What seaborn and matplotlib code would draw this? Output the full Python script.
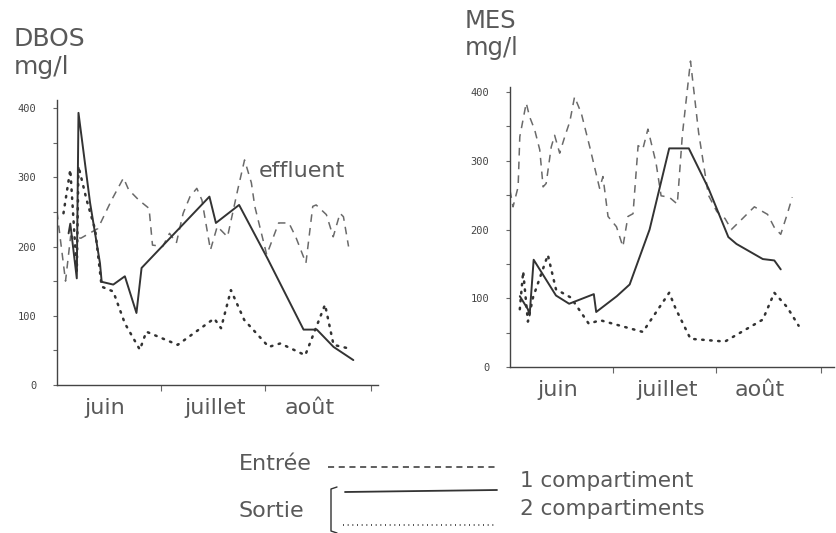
import matplotlib
matplotlib.use("Agg")
import matplotlib.pyplot as plt
from matplotlib.lines import Line2D
import seaborn as sns
import pandas as pd

# ---------------- data (x = days from 1 June) ----------------
months = ["juin", "juillet", "août"]
month_mid = [14, 46.5, 74]
month_edges = [30.5, 61, 92]

# DBOS
dbos_in_day = [0, 2.5, 4, 7, 12, 16, 19.5, 21, 24, 27, 28, 31, 33, 35, 37, 39, 41, 42.5,
               45, 47, 50, 53, 55, 57, 58, 61.5, 65, 68, 70, 73, 75, 76, 79, 81, 83, 84, 85.5]
dbos_in_val = [250, 150, 215, 212, 226, 267, 299, 282, 267, 255, 202, 200, 219, 205, 248, 272, 284, 267,
               195, 229, 214, 282, 325, 292, 258, 188, 234, 234, 214, 176, 258, 260, 246, 214, 248, 243, 200]
dbos_c1_day = [3.4, 3.9, 5.8, 6.3, 9.7, 12.6, 13.1, 16.5, 19.9, 23.3, 24.8, 44.7, 46.6, 53.4,
               61.7, 72.3, 76.2, 81.1, 86.9]
dbos_c1_val = [219, 233, 154, 393, 263, 176, 149, 145, 157, 104, 169, 272, 234, 260,
               183, 80, 80, 55, 36]
dbos_c2_day = [1.9, 3.9, 5.8, 6.3, 8.7, 11.2, 13.1, 16.5, 19.9, 24.3, 26.2, 35.4, 46.1, 48.1,
               51, 54.9, 62.1, 65.5, 72.8, 78.6, 81.1, 85.4]
dbos_c2_val = [248, 311, 164, 316, 267, 224, 142, 135, 89, 51, 77, 58, 96, 82,
               137, 94, 55, 60, 43, 116, 58, 53]

# MES
mes_in_day = [0, 0.9, 2.4, 2.9, 4.8, 5.8, 7.3, 8.8, 9.8, 10.7, 12.2, 13.2, 14.7, 16.2, 17.7, 19.1,
              21.1, 23.6, 26.5, 27.5, 29, 31.5, 33.4, 34.9, 36.4, 37.9, 39.3, 40.8, 43.2, 44.7,
              47.1, 49.5, 51, 53.4, 55.8, 58.7, 61.2, 63.6, 65.5, 68.4, 72.3, 76.2, 78.2, 80.1,
              82, 83.5]
mes_in_val = [257, 233, 262, 335, 384, 364, 345, 316, 262, 267, 320, 337, 311, 335, 357, 393,
              369, 320, 260, 277, 219, 204, 175, 219, 223, 322, 317, 346, 297, 249,
              247, 237, 338, 445, 341, 250, 226, 216, 200, 214, 233, 222, 203, 193,
              222, 247]
mes_c1_day = [2.9, 5.3, 5.8, 7.0, 13.6, 17.5, 24.8, 25.5, 31.6, 35.4, 41.3, 47.1, 52.9, 58.7,
              64.6, 67.0, 74.8, 78.2, 80.1]
mes_c1_val = [103, 84, 75, 156, 104, 92, 106, 80, 103, 120, 200, 318, 318, 260,
              189, 179, 157, 155, 142]
mes_c2_day = [2.9, 3.9, 5.3, 6.8, 11.2, 13.6, 18.0, 23.3, 26.7, 39.3, 47.1, 49.0, 53.4,
              63.6, 74.8, 78.2, 82.0, 85.4]
mes_c2_val = [84, 139, 66, 101, 163, 113, 101, 63, 68, 51, 108, 85, 41,
              37, 69, 108, 87, 60]

yticks = [0, 100, 200, 300, 400]

# ---------------- style ----------------
sns.set_theme(style="white")
plt.rcParams["font.family"] = ["DejaVu Sans"]
TXT = "#595959"
LINE = "#333333"
DASH = "#6a6a6a"

fig = plt.figure(figsize=(8.37, 5.33), dpi=100)
W, H = 837, 533


def axes_px(x0, x1, y_bottom, y_top):
    return fig.add_axes([x0 / W, 1 - y_bottom / H, (x1 - x0) / W, (y_bottom - y_top) / H])


def draw_panel(ax, xmax, ymax, spine_top, series):
    for day, val, kind in series:
        df = pd.DataFrame({"jour": day, "val": val})
        if kind == "in":
            sns.lineplot(data=df, x="jour", y="val", ax=ax, sort=False, estimator=None,
                         color=DASH, lw=1.1, dashes=False, linestyle=(0, (5, 4)))
        elif kind == "c1":
            sns.lineplot(data=df, x="jour", y="val", ax=ax, sort=False, estimator=None,
                         color=LINE, lw=1.4)
        else:
            sns.lineplot(data=df, x="jour", y="val", ax=ax, sort=False, estimator=None,
                         color=LINE, lw=1.8, linestyle=(0, (0.6, 2.6)),
                         dash_capstyle="round")
    ax.set_xlim(0, xmax)
    ax.set_ylim(0, ymax)
    ax.set_xlabel("")
    ax.set_ylabel("")
    for s in ["top", "right"]:
        ax.spines[s].set_visible(False)
    for s in ["left", "bottom"]:
        ax.spines[s].set_color("#444444")
        ax.spines[s].set_linewidth(1.0)
    ax.spines["left"].set_bounds(0, spine_top)
    ax.set_yticks(yticks)
    ax.set_yticklabels([str(v) for v in yticks], fontsize=7.5, color="#444444",
                       family="DejaVu Sans Mono")
    ax.set_yticks([50, 150, 250, 350], minor=True)
    ax.tick_params(axis="y", which="both", direction="out", length=3, width=0.8,
                   color="#666666", left=True, pad=12)
    ax.set_xticks(month_edges)
    ax.set_xticklabels([])
    ax.set_xticks(month_mid, minor=True)
    ax.set_xticklabels(months, minor=True, fontsize=16, color=TXT)
    ax.tick_params(axis="x", which="major", direction="out", length=4, width=0.8,
                   color="#666666", bottom=True)
    ax.tick_params(axis="x", which="minor", length=0, pad=9, bottom=True)
    ax.grid(False)
    ax.set_facecolor("none")


# left panel: DBOS
axL = axes_px(57, 57 + 94 * 3.41, 385, 385 - 412 * 0.6925)
draw_panel(axL, 94, 412, 412,
           [(dbos_in_day, dbos_in_val, "in"),
            (dbos_c1_day, dbos_c1_val, "c1"),
            (dbos_c2_day, dbos_c2_val, "c2")])
axL.text(0.63, 0.73, "effluent", transform=axL.transAxes, fontsize=16, color=TXT)

# right panel: MES
axR = axes_px(510, 510 + 96 * 3.38, 367, 367 - 458 * 0.6875)
draw_panel(axR, 96, 458, 408,
           [(mes_in_day, mes_in_val, "in"),
            (mes_c1_day, mes_c1_val, "c1"),
            (mes_c2_day, mes_c2_val, "c2")])

# titles
fig.text(14 / W, 1 - 46 / H, "DBOS", fontsize=18, color=TXT, va="baseline")
fig.text(14 / W, 1 - 74 / H, "mg/l", fontsize=18, color=TXT, va="baseline")
fig.text(465 / W, 1 - 28 / H, "MES", fontsize=17.5, color=TXT, va="baseline")
fig.text(465 / W, 1 - 55 / H, "mg/l", fontsize=17.5, color=TXT, va="baseline")

# legend (drawn by hand, as in the original)
def fl(xs, ys, **kw):
    fig.add_artist(Line2D([x / W for x in xs], [1 - y / H for y in ys],
                          transform=fig.transFigure, **kw))

fig.text(239 / W, 1 - 470 / H, "Entrée", fontsize=16, color=TXT, va="baseline")
fl([328, 497], [467, 467], color=LINE, lw=1.1, linestyle=(0, (4, 3)))
fig.text(239 / W, 1 - 517 / H, "Sortie", fontsize=16, color=TXT, va="baseline")
fl([337, 331, 331, 337], [487, 489, 531, 533], color=LINE, lw=1.0)
fl([345, 497], [492, 490], color=LINE, lw=1.3)
fl([343, 497], [525, 525], color=LINE, lw=1.2, linestyle=(0, (0.6, 2.2)))
fig.text(520 / W, 1 - 487 / H, "1 compartiment", fontsize=15.5, color=TXT, va="baseline")
fig.text(520 / W, 1 - 515 / H, "2 compartiments", fontsize=15.5, color=TXT, va="baseline")

fig.savefig("out.png", dpi=100, facecolor="white")
